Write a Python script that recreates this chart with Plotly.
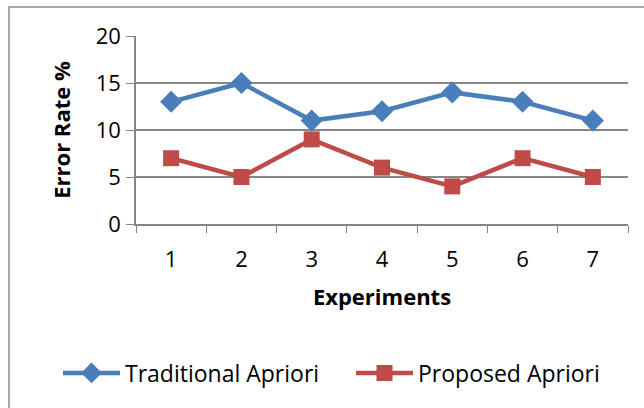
import plotly.graph_objects as go

experiments = ["1", "2", "3", "4", "5", "6", "7"]
traditional = [13, 15, 11, 12, 14, 13, 11]
proposed = [7, 5, 9, 6, 4, 7, 5]

FONT = "Open Sans"
W, H = 644, 408
L, R, T, B = 136, 16, 36, 184
pw, ph = W - L - R, H - T - B

fig = go.Figure()
fig.add_trace(go.Scatter(
    x=experiments, y=traditional, name="Traditional Apriori",
    mode="lines+markers",
    line=dict(color="#4A7EBB", width=4.5),
    marker=dict(symbol="diamond", size=17, color="#4A7EBB"),
))
fig.add_trace(go.Scatter(
    x=experiments, y=proposed, name="Proposed Apriori",
    mode="lines+markers",
    line=dict(color="#BE4B48", width=4.5),
    marker=dict(symbol="square", size=16, color="#BE4B48"),
))

def px_x(p):
    return (p - L) / pw

def px_y(p):
    return (H - B - p) / ph

fig.add_shape(type="rect", xref="paper", yref="paper",
              x0=px_x(9), x1=px_x(660), y0=px_y(420), y1=px_y(7),
              line=dict(color="#8c8c8c", width=1.5), fillcolor="rgba(0,0,0,0)",
              layer="below")

fig.update_layout(
    width=W, height=H,
    margin=dict(l=L, r=R, t=T, b=B),
    paper_bgcolor="white", plot_bgcolor="white",
    font=dict(family=FONT, size=22, color="black"),
    showlegend=True,
    legend=dict(orientation="h", x=px_x(95), y=px_y(373),
                xanchor="left", yanchor="middle",
                font=dict(family=FONT, size=23), itemwidth=57,
                entrywidth=221, entrywidthmode="pixels",
                bgcolor="rgba(0,0,0,0)"),
    xaxis=dict(
        type="category", range=[-0.5, 6.5],
        tickson="boundaries", ticks="outside", ticklen=7, tickcolor="#868686",
        showline=True, linecolor="#868686", linewidth=1.5,
        showgrid=False, zeroline=False,
        ticklabelstandoff=15,
        tickfont=dict(family=FONT, size=22),
        title=dict(text="<b>Experiments</b>", standoff=17,
                   font=dict(family=FONT, size=22)),
    ),
    yaxis=dict(
        range=[0, 20], dtick=5, tick0=0,
        ticks="outside", ticklen=8, tickcolor="#868686",
        showline=True, linecolor="#868686", linewidth=1.5,
        showgrid=True, gridcolor="#868686", gridwidth=1.5,
        zeroline=False,
        ticklabelstandoff=1,
        tickfont=dict(family=FONT, size=22),
        title=dict(text="<b>Error Rate %</b>", standoff=19,
                   font=dict(family=FONT, size=22)),
    ),
)

fig.write_html("out.html", config={"displayModeBar": False},
               post_script="document.body.style.margin='0px';")
